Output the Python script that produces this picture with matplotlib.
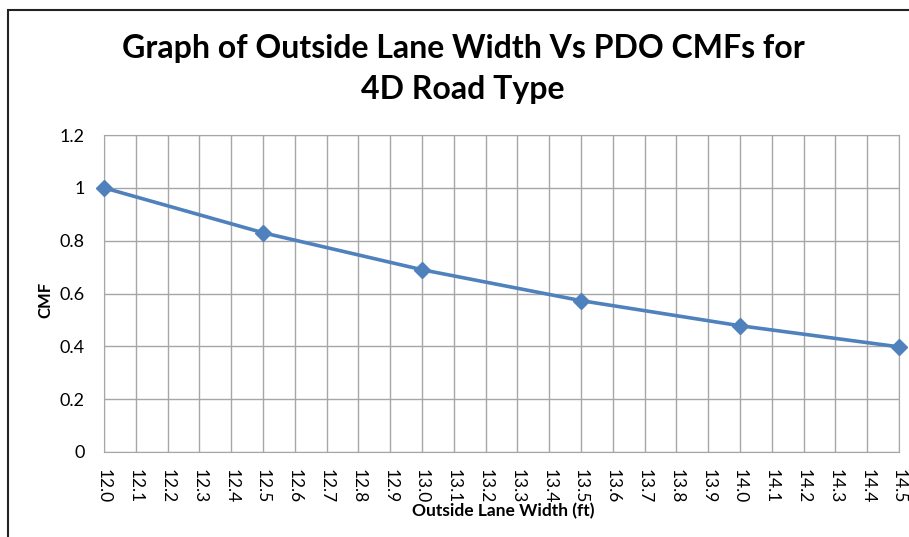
import matplotlib.pyplot as plt
from matplotlib.patches import Rectangle

plt.rcParams['font.family'] = ['Lato', 'DejaVu Sans']

# data
lane_width = [12.0, 12.5, 13.0, 13.5, 14.0, 14.5]
cmf = [1.0, 0.83, 0.69, 0.573, 0.478, 0.398]
x_ticks = [round(12.0 + 0.1 * i, 1) for i in range(26)]
y_ticks = [0, 0.2, 0.4, 0.6, 0.8, 1.0, 1.2]
y_labels = ['0', '0.2', '0.4', '0.6', '0.8', '1', '1.2']

fig = plt.figure(figsize=(9.09, 5.37), dpi=100)
W, H = 909, 537
ax = fig.add_axes([104 / W, 1 - 452 / H, (899 - 104) / W, (452 - 135) / H])

ax.plot(lane_width, cmf, color='#4F81BD', lw=2.6, marker='D', markersize=8,
        clip_on=False, zorder=3)

ax.set_xlim(12.0, 14.5)
ax.set_ylim(0, 1.2)
ax.set_xticks(x_ticks)
ax.set_xticklabels(['%.1f' % v for v in x_ticks], rotation=-90, fontsize=12.5)
ax.set_yticks(y_ticks)
ax.set_yticklabels(y_labels, fontsize=13)
ax.tick_params(length=0, pad=14)
ax.tick_params(axis='x', pad=12)
ax.grid(True, color='#A6A6A6', lw=1)
ax.set_axisbelow(True)
for s in ax.spines.values():
    s.set_color('#A6A6A6')

fig.text(45 / W, 1 - 300 / H, 'CMF', ha='center', va='center', rotation=90,
         fontsize=12, fontweight='bold')
fig.text(503 / W, 1 - 511 / H, 'Outside Lane Width (ft)', ha='center', va='center',
         fontsize=12.5, fontweight='bold')
fig.text(463 / W, 1 - 69 / H, 'Graph of Outside Lane Width Vs PDO CMFs for\n4D Road Type',
         ha='center', va='center', fontsize=23, fontweight='bold', linespacing=1.5)

# outer chart frame
fig.patches.append(Rectangle((8 / W, -0.1), 1.2, 1 - 10 / H + 0.1,
                             transform=fig.transFigure, fill=False, ec='#222222', lw=1.5))

fig.savefig('out.png', dpi=100)
